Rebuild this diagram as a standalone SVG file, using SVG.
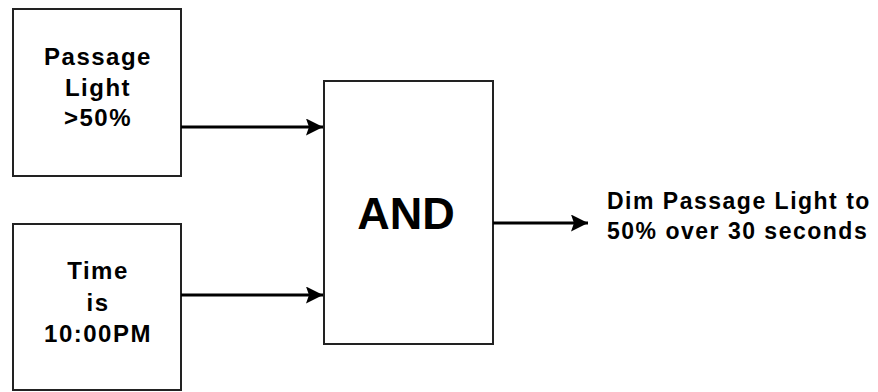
<svg xmlns="http://www.w3.org/2000/svg" width="878" height="392" viewBox="0 0 878 392">
<style>
.box{fill:#fff;stroke:#222;stroke-width:2}
.t{font-family:"Liberation Sans",Arial,sans-serif;font-weight:bold;fill:#000;font-size:24px;letter-spacing:1.5px;text-anchor:middle}
.big{font-family:"Liberation Sans",Arial,sans-serif;font-weight:bold;fill:#000;font-size:45px;text-anchor:middle}
.out{font-family:"Liberation Sans",Arial,sans-serif;font-weight:bold;fill:#000;font-size:23px;letter-spacing:1.5px}
.ln{stroke:#000;stroke-width:3;fill:none}
</style>
<defs>
<marker id="ah" viewBox="0 0 17 17" refX="17" refY="8.5" markerWidth="17" markerHeight="17" markerUnits="userSpaceOnUse" orient="auto">
<path d="M0,0 L17,8.5 L0,17 L3,8.5 Z" fill="#000"/>
</marker>
</defs>
<rect width="878" height="392" fill="#fff"/>
<g id="passage">
<rect class="box" x="13" y="9" width="168" height="167"/>
<text class="t" x="98" y="65">Passage</text>
<text class="t" x="98" y="95.5">Light</text>
<text class="t" x="98" y="126">&gt;50%</text>
</g>
<g id="time">
<rect class="box" x="13" y="224" width="168" height="166"/>
<text class="t" x="98" y="279">Time</text>
<text class="t" x="98" y="311">is</text>
<text class="t" x="98" y="342">10:00PM</text>
</g>
<g id="and">
<rect class="box" x="324" y="81" width="169" height="263"/>
<text class="big" x="406" y="229">AND</text>
</g>
<g id="output">
<text class="out" x="607" y="208.5">Dim Passage Light to</text>
<text class="out" x="607" y="238.5">50% over 30 seconds</text>
</g>
<g id="connectors">
<line class="ln" x1="181" y1="127" x2="323" y2="127" marker-end="url(#ah)"/>
<line class="ln" x1="181" y1="295" x2="323" y2="295" marker-end="url(#ah)"/>
<line class="ln" x1="493" y1="223" x2="588" y2="223" marker-end="url(#ah)"/>
</g>
</svg>
